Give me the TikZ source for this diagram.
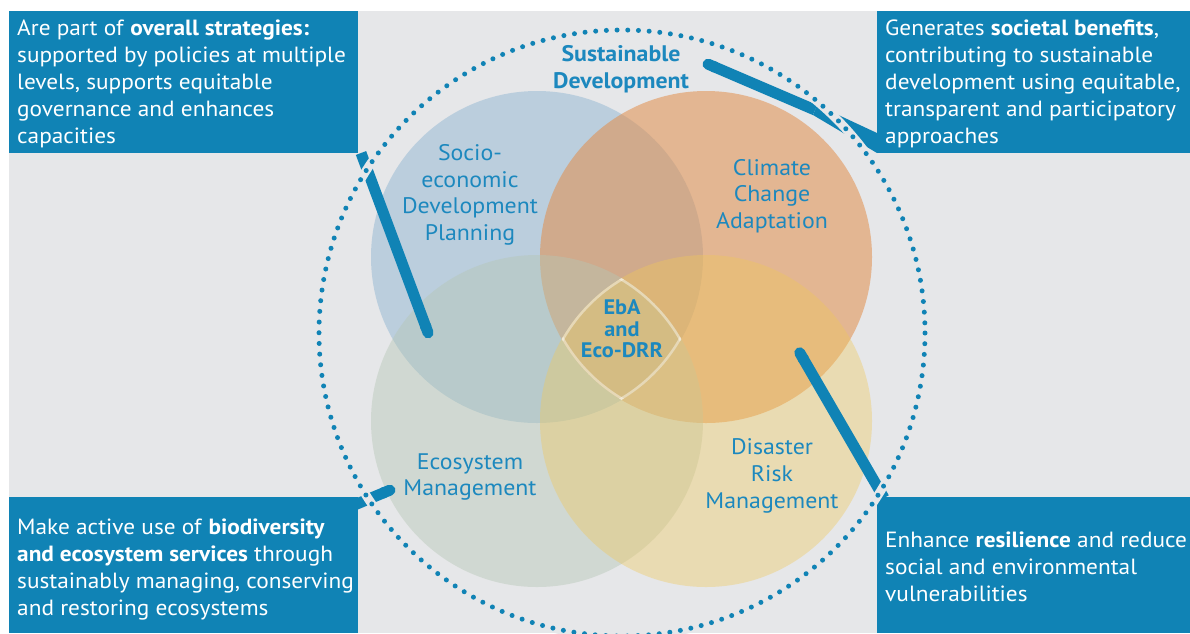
\documentclass[tikz,border=0pt]{standalone}
\usepackage{fontspec}
\setmainfont{PT Sans}[FakeStretch=1.06]
\usetikzlibrary{positioning, arrows.meta}
\definecolor{boxblue}{RGB}{16,131,181}
\definecolor{textblue}{RGB}{28,136,190}
\definecolor{bggray}{RGB}{230,231,233}
\definecolor{planblue}{RGB}{146,183,211}
\definecolor{climorange}{RGB}{226,142,75}
\definecolor{ecogreen}{RGB}{181,198,180}
\definecolor{riskyellow}{RGB}{240,200,90}

\begin{document}
\begin{tikzpicture}[
    x=1pt, y=-1pt,
    infobox/.style={fill=boxblue, inner sep=0pt, outer sep=0pt, anchor=north west},
    boxtext/.style={text=white, inner sep=0pt, align=left, font=\fontsize{22}{27}\selectfont},
    venn/.style={text=textblue, align=center, inner sep=0pt, font=\fontsize{22.5}{26.7}\selectfont},
    connector/.style={draw=boxblue, line width=11pt, -{Round Cap[]}}
]
    \useasboundingbox (0,0) rectangle (1190,633);
    \fill[white] (0,0) rectangle (1190,633);
    \fill[bggray] (9,11) rectangle (1190,633);

    % the four circles
    \coordinate (pc) at (537,257);
    \coordinate (cc) at (706,257);
    \coordinate (ec) at (537,421);
    \coordinate (rc) at (706,421);
    \fill[planblue, fill opacity=.5] (pc) circle (166);
    \fill[climorange, fill opacity=.55] (cc) circle (166);
    \fill[ecogreen, fill opacity=.43] (ec) circle (166);
    \fill[riskyellow, fill opacity=.385] (rc) circle (166);

    % outline of the common part
    \begin{scope}
        \clip (pc) circle (166);
        \clip (cc) circle (166);
        \clip (ec) circle (166);
        \clip (rc) circle (166);
        \foreach \c in {pc,cc,ec,rc}
            \draw[white, opacity=.42, line width=5pt] (\c) circle (166);
    \end{scope}

    % boxes
    \node[infobox, minimum width=349, minimum height=142] (tlbox) at (9,11) {};
    \node[infobox, minimum width=313, minimum height=142] (trbox) at (877,11) {};
    \node[infobox, minimum width=349, minimum height=136] (blbox) at (9,497) {};
    \node[infobox, minimum width=313, minimum height=136] (brbox) at (877,497) {};

    % pointers
    \coordinate (tlend) at (430,338);
    \coordinate (trend) at (703,62);
    \coordinate (trknee) at (815,110);
    \coordinate (blend) at (395,488);
    \coordinate (brend) at (797,348);
    \draw[connector] ([xshift=3pt]tlbox.south east) -- (tlend);
    \draw[connector] (trknee) -- (trend);
    \fill[boxblue] (817,105) -- (877,133) -- (trbox.south west) -- (813,115) -- cycle;
    \draw[connector] ([xshift=-6pt, yshift=-9pt]blbox.north east) -- (blend);
    \draw[connector] ([xshift=7pt, yshift=-1pt]brbox.north west) -- (brend);

    % dotted ring
    \coordinate (sdc) at (622,333);
    \draw[bggray, line width=9pt] (sdc) circle (303);
    \draw[boxblue, line width=5pt, line cap=round, dash pattern=on 0pt off 10.7pt] (sdc) circle (303);

    % labels
    \node[venn] (plan) at (470,195) {Socio-\\economic\\Development\\Planning};
    \node[venn] (clim) at (772,196) {Climate\\Change\\Adaptation};
    \node[venn] (eco) at (470,477) {Ecosystem\\Management};
    \node[venn] (risk) at (772,476) {Disaster\\Risk\\Management};
    \node[venn, font=\bfseries\fontsize{22.5}{26.7}\selectfont] (sd) at (621,69) {Sustainable\\Development};
    \node[venn, font=\bfseries\fontsize{21}{21.5}\selectfont] (eba) at (622,329) {EbA\\and\\Eco-DRR};

    \node[boxtext, below right=9pt and 8pt of tlbox.north west] (tltext)
        {Are part of \textbf{overall strategies:}\\supported by policies at multiple\\levels, supports equitable\\governance and enhances\\capacities};
    \node[boxtext, below right=9pt and 8pt of trbox.north west] (trtext)
        {Generates \textbf{societal benefits},\\contributing to sustainable\\development using equitable,\\transparent and participatory\\approaches};
    \node[boxtext, below right=22pt and 8pt of blbox.north west] (bltext)
        {Make active use of \textbf{biodiversity}\\\textbf{and ecosystem services} through\\sustainably managing, conserving\\and restoring ecosystems};
    \node[boxtext, below right=35pt and 8pt of brbox.north west] (brtext)
        {Enhance \textbf{resilience} and reduce\\social and environmental\\vulnerabilities};
\end{tikzpicture}
\end{document}
